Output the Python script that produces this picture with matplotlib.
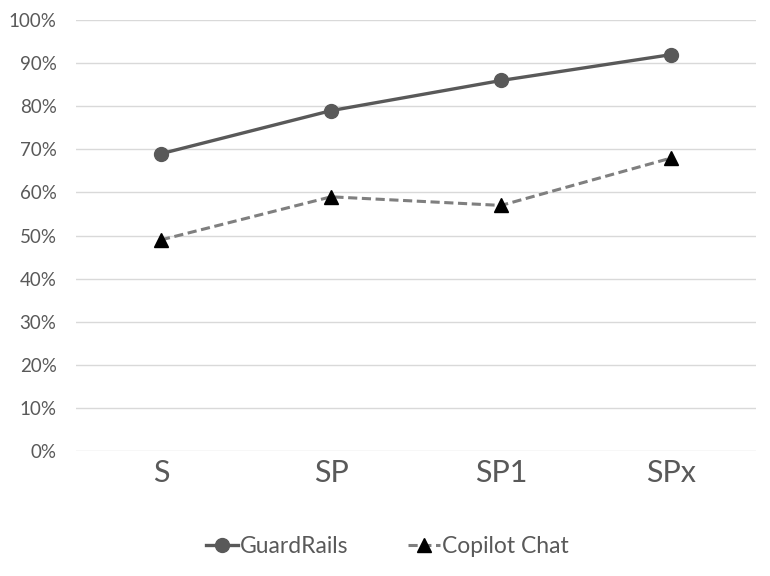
import matplotlib.pyplot as plt
from matplotlib.ticker import PercentFormatter

plt.rcParams['font.family'] = ['Lato', 'DejaVu Sans']

# chart data
categories = ['S', 'SP', 'SP1', 'SPx']
guardrails = [69, 79, 86, 92]
copilot_chat = [49, 59, 57, 68]

fig = plt.figure(figsize=(7.7, 5.76), dpi=100)
ax = fig.add_axes([0.0987, 0.217, 0.8833, 0.748])

x = range(len(categories))
ax.plot(x, guardrails, color='#595959', lw=2.4, marker='o', markersize=10,
        label='GuardRails', zorder=3)
ax.plot(x, copilot_chat, color='#7f7f7f', lw=2.2, ls=(0, (3, 1.5)), marker='^',
        markersize=10, markerfacecolor='black', markeredgecolor='black',
        label='Copilot Chat', zorder=3)

ax.set_xlim(-0.5, 3.5)
ax.set_ylim(0, 100)
ax.set_yticks(range(0, 101, 10))
ax.yaxis.set_major_formatter(PercentFormatter(decimals=0))
ax.set_xticks(list(x))
ax.set_xticklabels(categories)
ax.grid(axis='y', color='#d9d9d9', lw=1)
ax.set_axisbelow(True)
for s in ax.spines.values():
    s.set_visible(False)
ax.tick_params(axis='y', length=0, labelsize=13.5, labelcolor='#595959', pad=14)
ax.tick_params(axis='x', length=0, labelsize=22, labelcolor='#595959', pad=6)

# legend centred on the figure, below the category labels
handles, labels = ax.get_legend_handles_labels()
leg = fig.legend(handles, labels, loc='center', bbox_to_anchor=(0.503, 0.052), ncol=2,
                 frameon=False, fontsize=16.5, handlelength=1.4, columnspacing=2.6,
                 handletextpad=0.1)
for t in leg.get_texts():
    t.set_color('#595959')

fig.savefig('out.png', dpi=100)
